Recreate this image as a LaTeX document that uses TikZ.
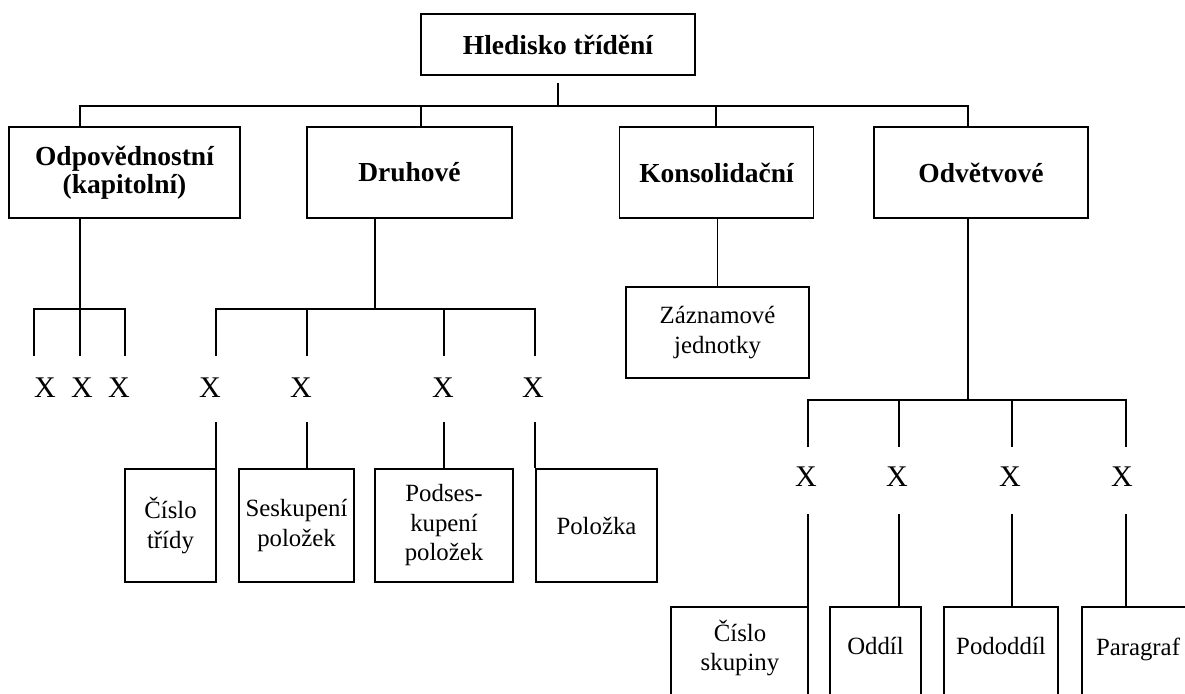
\documentclass[tikz,border=0pt]{standalone}
\usepackage{fontspec}
\setmainfont{Liberation Serif}
\begin{document}
\begin{tikzpicture}[x=1pt,y=-1pt,line width=1.5pt,
  hbox/.style={draw,inner sep=0pt,align=center,font=\fontsize{27.5pt}{28pt}\selectfont\bfseries},
  tbox/.style={draw,inner sep=0pt,align=center,font=\fontsize{24.8pt}{29.5pt}\selectfont},
  obox/.style={draw,inner sep=0pt,minimum height=130pt,anchor=north},
  lbl/.style={inner sep=0pt,align=center,font=\fontsize{24.8pt}{29.5pt}\selectfont},
  xmark/.style={inner sep=0pt,font=\fontsize{30pt}{30pt}\selectfont}]
\useasboundingbox (0,0) rectangle (1185,693);
\fill[white] (0,0) rectangle (1185,693);
\clip (0,0) rectangle (1185,693);

% root and first level
\node[hbox,minimum width=274pt,minimum height=61pt] (top) at (558,44.5) {Hledisko třídění};
\node[hbox,minimum width=231pt,minimum height=91pt] (odp) at (124.5,172.5) {Odpovědnostní\\(kapitolní)};
\node[hbox,minimum width=205pt,minimum height=91pt] (dru) at (409.5,172.5) {Druhové};
\node[hbox,minimum width=194pt,minimum height=91pt] (kon) at (716.5,172.5) {Konsolidační};
\node[hbox,minimum width=214pt,minimum height=91pt] (odv) at (981,172.5) {Odvětvové};

% second level boxes
\node[tbox,minimum width=183pt,minimum height=91pt] (zaz) at (717.5,332.5) {Záznamové\\jednotky};
\node[tbox,minimum width=91pt,minimum height=113pt] (cis) at (170.5,525.5) {Číslo\\třídy};
\node[tbox,minimum width=115pt,minimum height=113pt] (ses) at (296.5,525.5) {Seskupení\\položek};
\node[tbox,minimum width=138pt,minimum height=113pt] (pod) at (444,525.5) {Podses-\\kupení\\položek};
\node[tbox,minimum width=121pt,minimum height=113pt] (pol) at (596.5,525.5) {Položka};

% open boxes running off the lower edge
\node[obox,minimum width=137pt] (csk) at (739.5,606) {};
\node[obox,minimum width=91pt] (odd) at (875.5,606) {};
\node[obox,minimum width=114pt] (pdd) at (1001,606) {};
\node[obox,minimum width=113pt] (par) at (1138.5,606) {};
\node[lbl] (tcsk) at (740,648) {Číslo\\skupiny};
\node[lbl] (todd) at (875.5,646) {Oddíl};
\node[lbl] (tpdd) at (1001,646) {Pododdíl};
\node[lbl] (tpar) at (1138,649) {Paragraf};

% X marks
\node[xmark] (xo1) at (45,388) {X};
\node[xmark] (xo2) at (82,388) {X};
\node[xmark] (xo3) at (119,388) {X};
\node[xmark] (xd1) at (210,388) {X};
\node[xmark] (xd2) at (301,388) {X};
\node[xmark] (xd3) at (443,388) {X};
\node[xmark] (xd4) at (533,388) {X};
\node[xmark] (xv1) at (806,477) {X};
\node[xmark] (xv2) at (897,477) {X};
\node[xmark] (xv3) at (1010,477) {X};
\node[xmark] (xv4) at (1122,477) {X};

% junction points and line levels
\coordinate (bus) at (558,106);
\coordinate (b1) at (80,106);
\coordinate (b2) at (421,106);
\coordinate (b3) at (716,106);
\coordinate (b4) at (968,106);
\coordinate (oj) at (80,309);
\coordinate (oa) at (34,309);
\coordinate (oc) at (125,309);
\coordinate (dj) at (375,309);
\coordinate (d1) at (216,309);
\coordinate (d2) at (307,309);
\coordinate (d3) at (444,309);
\coordinate (d4) at (535,309);
\coordinate (vj) at (968,400);
\coordinate (v1) at (808,400);
\coordinate (v2) at (899,400);
\coordinate (v3) at (1012,400);
\coordinate (v4) at (1126,400);
\coordinate (ya) at (0,356);
\coordinate (yb) at (0,422);
\coordinate (yc) at (0,447);
\coordinate (yd) at (0,514);

% root to first level
\draw ([yshift=-7pt]top.south) -- (bus);
\draw (b1 |- odp.north) -- (b1) -- (b4) -- (b4 |- odv.north);
\draw (b2) -- (b2 |- dru.north);
\draw (b3) -- (b3 |- kon.north);

% Odpovědnostní
\draw (odp.south -| oj) -- (oj);
\draw (oa |- ya) -- (oa) -- (oc) -- (oc |- ya);
\draw (oj) -- (oj |- ya);

% Druhové
\draw (dru.south -| dj) -- (dj);
\draw (d1 |- ya) -- (d1) -- (d4) -- (d4 |- ya);
\draw (d2) -- (d2 |- ya);
\draw (d3) -- (d3 |- ya);
\draw (d1 |- yb) -- (d1 |- cis.north);
\draw (d2 |- yb) -- (d2 |- ses.north);
\draw (d3 |- yb) -- (d3 |- pod.north);
\draw (d4 |- yb) -- (d4 |- pol.north);

% Konsolidační
\draw (zaz.north |- kon.south) -- (zaz.north);

% Odvětvové
\draw (odv.south -| vj) -- (vj);
\draw (v1 |- yc) -- (v1) -- (v4) -- (v4 |- yc);
\draw (v2) -- (v2 |- yc);
\draw (v3) -- (v3 |- yc);
\draw (v1 |- yd) -- (v1 |- csk.north);
\draw (v2 |- yd) -- (v2 |- odd.north);
\draw (v3 |- yd) -- (v3 |- pdd.north);
\draw (v4 |- yd) -- (v4 |- par.north);
\end{tikzpicture}
\end{document}
